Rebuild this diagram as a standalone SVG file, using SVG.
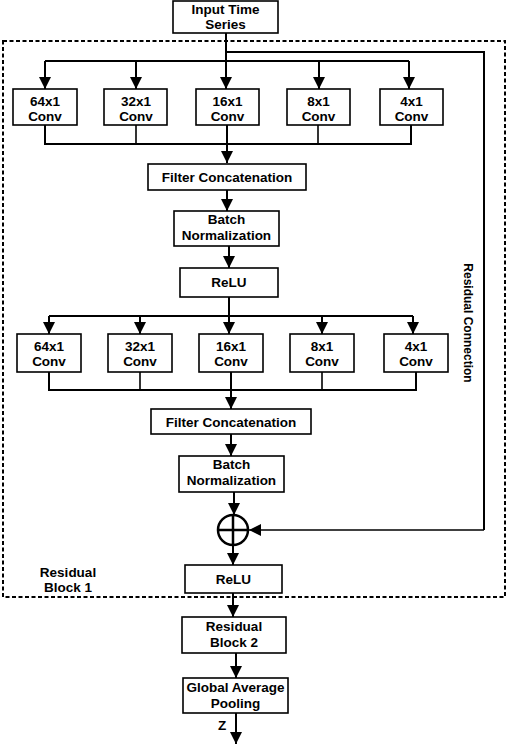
<svg xmlns="http://www.w3.org/2000/svg" width="508" height="744" viewBox="0 0 508 744">
<defs>
<marker id="ah" markerUnits="userSpaceOnUse" markerWidth="12" markerHeight="16" viewBox="0 0 12 16" refX="12" refY="6" orient="auto">
<path d="M0,0 L12,6 L0,12 Z" fill="#000"/>
</marker>
</defs>
<style>
rect.n{fill:#fff;stroke:#000;stroke-width:1.6}
text{font-family:"Liberation Sans",Arial,sans-serif;font-weight:bold;font-size:13.5px;text-anchor:middle;fill:#000}
text.v{font-size:12px}
.c line,.c path,.c polyline{stroke:#000;stroke-width:2;fill:none}
.a{marker-end:url(#ah)}
</style>
<rect x="3" y="41" width="502" height="556" fill="none" stroke="#000" stroke-width="2" stroke-dasharray="4,2.5"/>
<g class="c" id="connectors">
<line x1="226" y1="33" x2="226" y2="61"/>
<polyline points="226,52 484,52 484,530" stroke-width="1.6"/>
<line class="a" x1="484" y1="530" x2="249" y2="530" style="stroke-width:1.6"/>
<line x1="45" y1="61" x2="409" y2="61"/>
<line class="a" x1="45" y1="61" x2="45" y2="89"/>
<line class="a" x1="136" y1="61" x2="136" y2="89"/>
<line class="a" x1="226" y1="61" x2="226" y2="89"/>
<line class="a" x1="319" y1="61" x2="319" y2="89"/>
<line class="a" x1="409" y1="61" x2="409" y2="89"/>
<polyline points="45,125 45,144 411,144 411,125" stroke-width="1.6"/>
<line x1="136" y1="125" x2="136" y2="144" style="stroke-width:1.6"/>
<line x1="318" y1="125" x2="318" y2="144" style="stroke-width:1.6"/>
<line x1="227" y1="125" x2="227" y2="144"/>
<line class="a" x1="227" y1="144" x2="227" y2="163"/>
<line class="a" x1="227" y1="190" x2="227" y2="211"/>
<line class="a" x1="229" y1="246" x2="229" y2="268"/>
<line x1="229" y1="297" x2="229" y2="316"/>
<line x1="49" y1="316" x2="413" y2="316"/>
<line class="a" x1="49" y1="316" x2="49" y2="334"/>
<line class="a" x1="140" y1="316" x2="140" y2="334"/>
<line class="a" x1="229" y1="316" x2="229" y2="334"/>
<line class="a" x1="322" y1="316" x2="322" y2="334"/>
<line class="a" x1="413" y1="316" x2="413" y2="334"/>
<polyline points="49,372 49,390 416,390 416,372" stroke-width="1.6"/>
<line x1="140" y1="372" x2="140" y2="390" style="stroke-width:1.6"/>
<line x1="322" y1="372" x2="322" y2="390" style="stroke-width:1.6"/>
<line x1="231" y1="372" x2="231" y2="390"/>
<line class="a" x1="231" y1="390" x2="231" y2="409"/>
<line class="a" x1="231" y1="434" x2="231" y2="456"/>
<line class="a" x1="234" y1="492" x2="234" y2="515"/>
<line class="a" x1="233" y1="545" x2="233" y2="565"/>
<line class="a" x1="233" y1="593" x2="233" y2="617"/>
<line class="a" x1="236" y1="653" x2="236" y2="678"/>
<line class="a" x1="236" y1="713" x2="236" y2="744"/>
</g>
<g id="input"><rect class="n" x="173" y="1" width="105" height="32"/><text x="225.5" y="14">Input Time</text><text x="225.5" y="29">Series</text></g>
<g id="conv64a"><rect class="n" x="13" y="89" width="64" height="36"/><text x="45" y="106">64x1</text><text x="45" y="121">Conv</text></g>
<g id="conv32a"><rect class="n" x="104" y="89" width="63" height="36"/><text x="136" y="106">32x1</text><text x="136" y="121">Conv</text></g>
<g id="conv16a"><rect class="n" x="196" y="89" width="63" height="36"/><text x="227.5" y="106">16x1</text><text x="227.5" y="121">Conv</text></g>
<g id="conv8a"><rect class="n" x="287" y="89" width="63" height="36"/><text x="318.5" y="106">8x1</text><text x="318.5" y="121">Conv</text></g>
<g id="conv4a"><rect class="n" x="380" y="89" width="63" height="36"/><text x="411.5" y="106">4x1</text><text x="411.5" y="121">Conv</text></g>
<g id="concat1"><rect class="n" x="148" y="164" width="158" height="26"/><text x="227" y="182">Filter Concatenation</text></g>
<g id="bn1"><rect class="n" x="174" y="211" width="105" height="35"/><text x="226.5" y="224">Batch</text><text x="226.5" y="240">Normalization</text></g>
<g id="relu1"><rect class="n" x="180" y="268" width="98" height="29"/><text x="229" y="287">ReLU</text></g>
<g id="conv64b"><rect class="n" x="17" y="334" width="64" height="38"/><text x="49" y="351">64x1</text><text x="49" y="366">Conv</text></g>
<g id="conv32b"><rect class="n" x="108" y="334" width="64" height="38"/><text x="140" y="351">32x1</text><text x="140" y="366">Conv</text></g>
<g id="conv16b"><rect class="n" x="199" y="334" width="64" height="38"/><text x="231" y="351">16x1</text><text x="231" y="366">Conv</text></g>
<g id="conv8b"><rect class="n" x="290" y="334" width="64" height="38"/><text x="322" y="351">8x1</text><text x="322" y="366">Conv</text></g>
<g id="conv4b"><rect class="n" x="384" y="334" width="64" height="38"/><text x="416" y="351">4x1</text><text x="416" y="366">Conv</text></g>
<g id="concat2"><rect class="n" x="151" y="409" width="160" height="25"/><text x="231" y="427">Filter Concatenation</text></g>
<g id="bn2"><rect class="n" x="179" y="456" width="105" height="36"/><text x="231.5" y="469">Batch</text><text x="231.5" y="485">Normalization</text></g>
<g id="add"><circle cx="233" cy="530" r="15" fill="#fff" stroke="#000" stroke-width="2.5"/><line x1="218" y1="530" x2="248" y2="530" stroke="#000" stroke-width="2.5"/><line x1="233" y1="515" x2="233" y2="545" stroke="#000" stroke-width="2.5"/></g>
<g id="relu2"><rect class="n" x="185" y="565" width="97" height="28"/><text x="233.5" y="584">ReLU</text></g>
<g id="label1"><text x="68" y="577">Residual</text><text x="68" y="592">Block 1</text></g>
<g id="resconn"><text class="v" transform="translate(464,323) rotate(90)">Residual Connection</text></g>
<g id="rb2"><rect class="n" x="182" y="617" width="104" height="36"/><text x="234" y="631">Residual</text><text x="234" y="647">Block 2</text></g>
<g id="gap"><rect class="n" x="183" y="678" width="105" height="35"/><text x="235.5" y="692">Global Average</text><text x="235.5" y="708">Pooling</text></g>
<text x="222" y="730">Z</text>
</svg>
